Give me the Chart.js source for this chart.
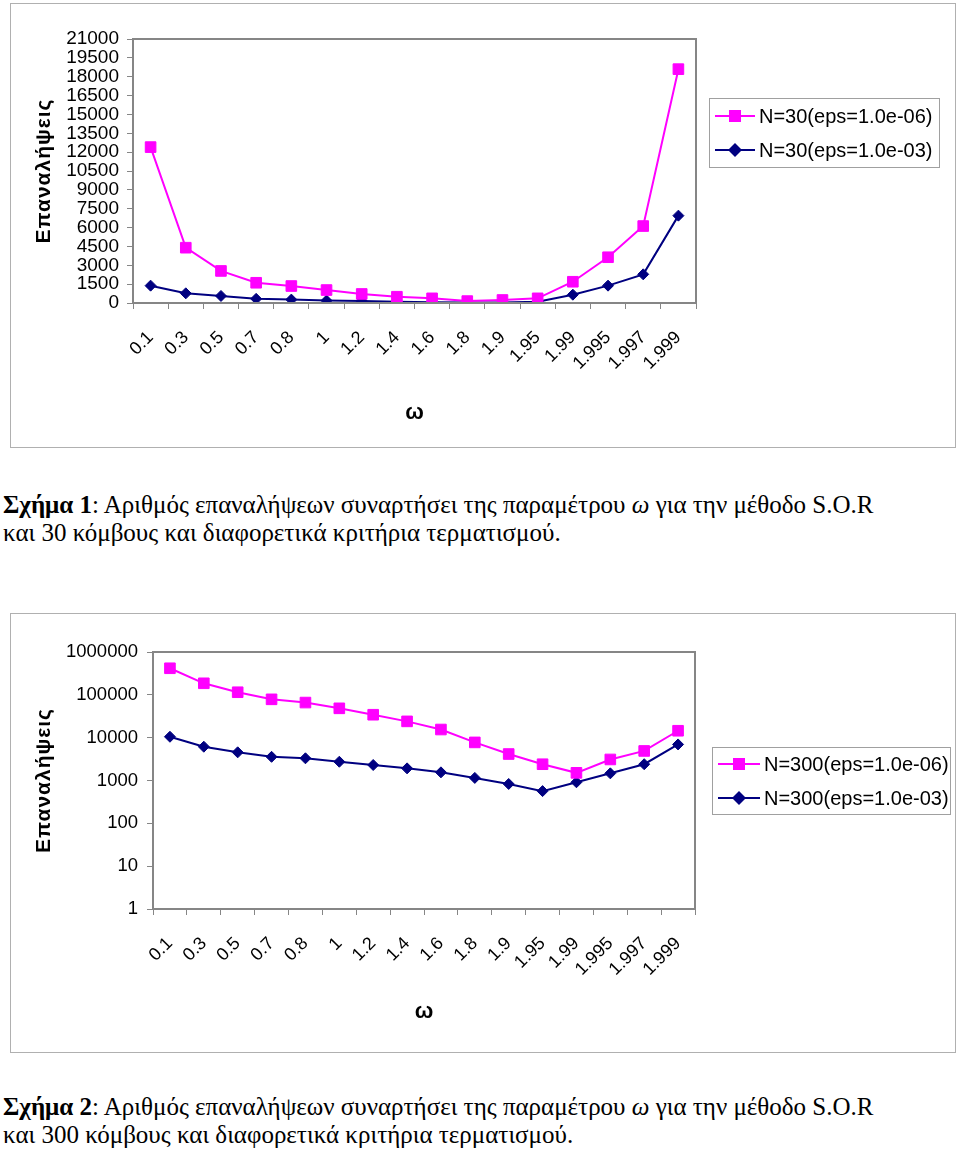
<!DOCTYPE html>
<html>
<head>
<meta charset="utf-8">
<script src="https://cdn.jsdelivr.net/npm/chart.js@4.4.1/dist/chart.umd.min.js"></script>
<style>
  body { margin: 0; background: #fff; width: 960px; height: 1150px; position: relative; }
  canvas { position: absolute; }
  .caption {
    position: absolute; left: 3px;
    font-family: "Times New Roman", "Liberation Serif", serif;
    font-size: 25px; line-height: 28px; color: #000; white-space: nowrap;
  }
</style>
</head>
<body>
<canvas id="chart1" width="946" height="445" style="left:10px;top:3px"></canvas>
<div class="caption" style="top:491px"><b>Σχήμα 1</b>: Αριθμός επαναλήψεων συναρτήσει της παραμέτρου <i>ω</i> για την μέθοδο S.O.R<br>και 30 κόμβους και διαφορετικά κριτήρια τερματισμού.</div>
<canvas id="chart2" width="946" height="440" style="left:10px;top:613px"></canvas>
<div class="caption" style="top:1093px"><b>Σχήμα 2</b>: Αριθμός επαναλήψεων συναρτήσει της παραμέτρου <i>ω</i> για την μέθοδο S.O.R<br>και 300 κόμβους και διαφορετικά κριτήρια τερματισμού.</div>
<script>
// ω values on the x axis
const omega = ['0.1', '0.3', '0.5', '0.7', '0.8', '1', '1.2', '1.4', '1.6', '1.8', '1.9', '1.95', '1.99', '1.995', '1.997', '1.999']

// Σχήμα 1: N=30
const n30Eps6 = [12400, 4400, 2550, 1610, 1350, 1030, 720, 500, 370, 150, 240, 370, 1690, 3640, 6120, 18600]
const n30Eps3 = [1380, 770, 560, 330, 270, 190, 160, 90, 60, 40, 40, 100, 660, 1380, 2280, 6950]
const yTicks1 = [0, 1500, 3000, 4500, 6000, 7500, 9000, 10500, 12000, 13500, 15000, 16500, 18000, 19500, 21000]

// Σχήμα 2: N=300 (log scale)
const n300Eps6 = [417000, 186000, 115000, 78500, 66000, 48400, 34300, 24000, 15500, 7750, 4150, 2400, 1510, 3100, 4900, 14500]
const n300Eps3 = [10500, 6150, 4550, 3570, 3300, 2740, 2300, 1920, 1550, 1150, 830, 565, 910, 1470, 2400, 6950]
const yTicks2 = [1, 10, 100, 1000, 10000, 100000, 1000000]

const labels1 = ['N=30(eps=1.0e-06)', 'N=30(eps=1.0e-03)']
const labels2 = ['N=300(eps=1.0e-06)', 'N=300(eps=1.0e-03)']

const PINK = '#FF00FF'
const NAVY = '#000080'
const GREY = '#868686'
const SANS = 'Arial, "Liberation Sans", sans-serif'

// frame around the whole chart, border round the plot, and the boxed legend
const excelFrame = {
  id: 'excelFrame',
  beforeDraw(chart) {
    const ctx = chart.ctx
    ctx.save()
    ctx.strokeStyle = '#b0b0b0'
    ctx.lineWidth = 1
    ctx.strokeRect(0.5, 0.5, chart.width - 1, chart.height - 1)
    ctx.restore()
  },
  afterDraw(chart, args, opts) {
    const ctx = chart.ctx
    const a = chart.chartArea
    ctx.save()
    ctx.strokeStyle = GREY
    ctx.lineWidth = 2
    ctx.strokeRect(a.left, a.top, a.right - a.left, a.bottom - a.top)

    // legend
    const L = opts.legend
    ctx.strokeStyle = '#a0a0a0'
    ctx.lineWidth = 1
    ctx.strokeRect(L.x + 0.5, L.y + 0.5, L.w, L.h)
    ctx.font = '20px ' + SANS
    ctx.textBaseline = 'middle'
    chart.data.datasets.forEach((ds, i) => {
      const y = L.y + L.row0 + i * L.rowGap
      const x0 = L.x + 6
      const x1 = x0 + L.lineLen
      const cx = (x0 + x1) / 2
      ctx.strokeStyle = ds.borderColor
      ctx.lineWidth = ds.borderWidth
      ctx.beginPath()
      ctx.moveTo(x0, y)
      ctx.lineTo(x1, y)
      ctx.stroke()
      ctx.fillStyle = ds.pointBackgroundColor
      ctx.beginPath()
      if (ds.pointStyle === 'rect') {
        ctx.rect(cx - 6, y - 6, 12, 12)
      } else {
        ctx.moveTo(cx, y - 7)
        ctx.lineTo(cx + 7, y)
        ctx.lineTo(cx, y + 7)
        ctx.lineTo(cx - 7, y)
        ctx.closePath()
      }
      ctx.fill()
      ctx.fillStyle = '#000'
      ctx.fillText(ds.label, x1 + 4, y + 1)
    })
    ctx.restore()
  }
}

function series(label, data, color, style, radius) {
  return {
    label: label,
    data: data,
    borderColor: color,
    backgroundColor: color,
    pointBackgroundColor: color,
    pointBorderColor: color,
    pointBorderWidth: 1,
    borderWidth: 2,
    pointStyle: style,
    pointRadius: radius,
    tension: 0
  }
}

// Excel spaces out the letters of the axis title a bit
function spacedTitle(scale) {
  const orig = scale.drawTitle
  scale.drawTitle = function () {
    this.ctx.save()
    this.ctx.letterSpacing = '1px'
    orig.apply(this, arguments)
    this.ctx.restore()
  }
}

function makeChart(id, cfg) {
  const chart = new Chart(document.getElementById(id).getContext('2d'), {
    type: 'line',
    data: {
      labels: omega,
      datasets: [
        series(cfg.labels[0], cfg.pink, PINK, 'rect', 7.5),
        series(cfg.labels[1], cfg.navy, NAVY, 'rectRot', 5.5)
      ]
    },
    plugins: [excelFrame],
    options: {
      responsive: false,
      animation: false,
      layout: { padding: { top: cfg.top, right: cfg.right, bottom: 0, left: 0 } },
      plugins: {
        legend: { display: false },
        tooltip: { enabled: false },
        excelFrame: { legend: cfg.legend }
      },
      scales: {
        x: {
          offset: true,
          grid: { offset: true, drawOnChartArea: false, color: GREY, tickLength: 6, lineWidth: 1 },
          border: { color: GREY, width: 2 },
          ticks: {
            autoSkip: false, minRotation: 45, maxRotation: 45,
            padding: cfg.xPad, color: '#000',
            font: { family: SANS, size: 18 }
          },
          title: {
            display: true, text: 'ω', color: '#000',
            font: { family: SANS, size: 22, weight: 'bold' },
            padding: { top: 0, bottom: cfg.xTitlePad }
          },
          afterFit: s => { s.height = cfg.xHeight }
        },
        y: cfg.y
      }
    }
  })
  spacedTitle(chart.scales.y)
  chart.draw()
  return chart
}

const yCommon = {
  grid: { drawOnChartArea: false, color: GREY, tickLength: 6 },
  border: { color: GREY, width: 2 },
  title: {
    display: true, text: 'Επαναλήψεις', color: '#000',
    font: { family: SANS, size: 21, weight: 'bold' },
    padding: { top: 22, bottom: 0 }
  }
}

makeChart('chart1', {
  labels: labels1, pink: n30Eps6, navy: n30Eps3,
  top: 36, right: 260, xHeight: 145, xPad: 18, xTitlePad: 22,
  legend: { x: 699, y: 95, w: 230, h: 69, row0: 18, rowGap: 34, lineLen: 40 },
  y: Object.assign({}, yCommon, {
    type: 'linear', min: 0, max: 21000,
    ticks: {
      autoSkip: false, padding: 8, color: '#000',
      font: { family: SANS, size: 19 },
      callback: v => String(v)
    },
    afterBuildTicks: s => { s.ticks = yTicks1.map(v => ({ value: v })) },
    afterFit: s => { s.width = 123 }
  })
})

makeChart('chart2', {
  labels: labels2, pink: n300Eps6, navy: n300Eps3,
  top: 39, right: 261, xHeight: 144, xPad: 18, xTitlePad: 28,
  legend: { x: 702, y: 134, w: 238, h: 67, row0: 17, rowGap: 34, lineLen: 42 },
  y: Object.assign({}, yCommon, {
    type: 'logarithmic', min: 1, max: 1000000,
    ticks: {
      autoSkip: false, padding: 9, color: '#000',
      font: { family: SANS, size: 18.5 },
      callback: v => String(v)
    },
    afterBuildTicks: s => { s.ticks = yTicks2.map(v => ({ value: v })) },
    afterFit: s => { s.width = 143 }
  })
})
</script>
</body>
</html>
